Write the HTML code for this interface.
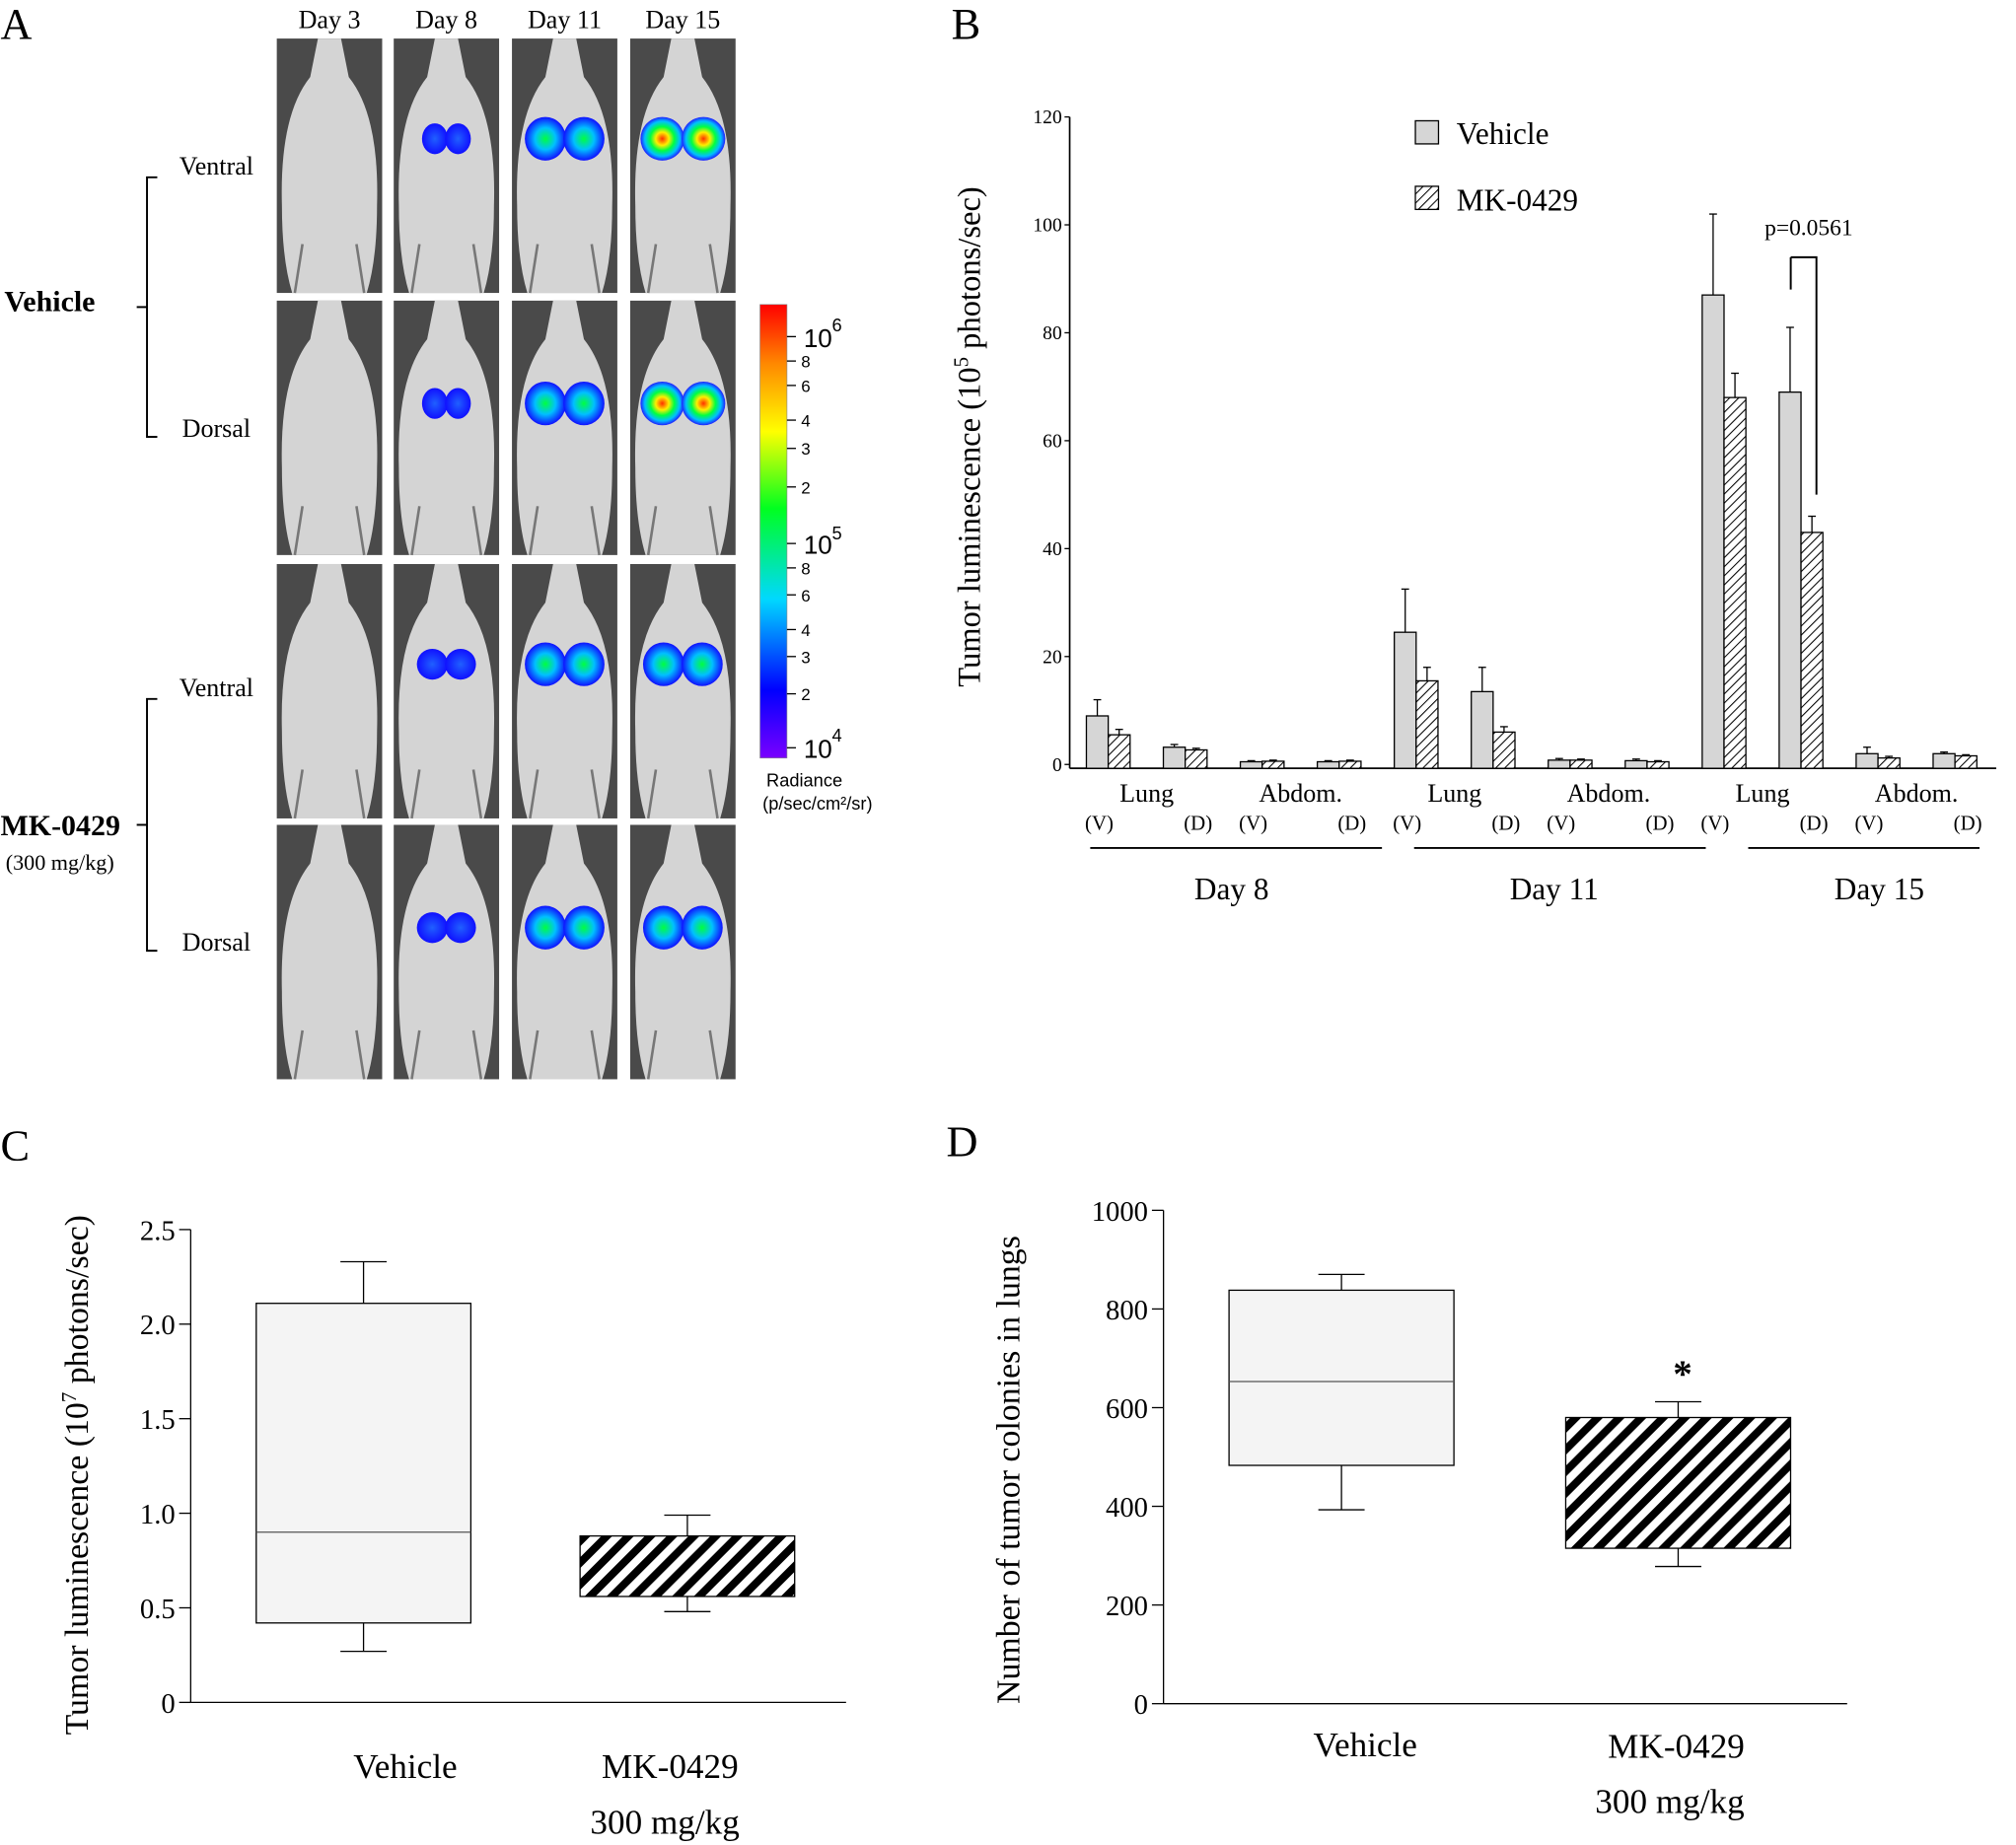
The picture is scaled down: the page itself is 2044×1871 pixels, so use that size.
<!DOCTYPE html>
<html><head><meta charset="utf-8"><style>
html,body{margin:0;padding:0;background:#fff;}
svg{display:block;font-family:"Liberation Serif",serif;}
svg text{font-family:"Liberation Serif",serif;}
</style></head><body>
<svg id="fig" width="2044" height="1871" viewBox="0 0 1568 1436" xmlns="http://www.w3.org/2000/svg">
<defs>
<pattern id="hB" patternUnits="userSpaceOnUse" width="5" height="5" patternTransform="rotate(45)"><rect width="5" height="5" fill="#fff"/><line x1="0" y1="0" x2="0" y2="5" stroke="#000" stroke-width="1.6"/></pattern>
<pattern id="hC" patternUnits="userSpaceOnUse" width="12" height="12" patternTransform="rotate(45)"><rect width="12" height="12" fill="#fff"/><line x1="3" y1="0" x2="3" y2="12" stroke="#000" stroke-width="6"/></pattern>
<linearGradient id="cbar" x1="0" y1="1" x2="0" y2="0">
<stop offset="0" stop-color="#7a00ff"/><stop offset="0.15" stop-color="#0000ff"/><stop offset="0.35" stop-color="#00d8ff"/><stop offset="0.55" stop-color="#00ff20"/><stop offset="0.72" stop-color="#ffff00"/><stop offset="0.87" stop-color="#ff8800"/><stop offset="1" stop-color="#ff0000"/></linearGradient>
<radialGradient id="blob"><stop offset="0" stop-color="#ff3000"/><stop offset="0.3" stop-color="#ffee00"/><stop offset="0.55" stop-color="#00ff40"/><stop offset="0.8" stop-color="#00c0ff"/><stop offset="1" stop-color="#2020ff"/></radialGradient>
<radialGradient id="blob2"><stop offset="0" stop-color="#00ff40"/><stop offset="0.5" stop-color="#00c0ff"/><stop offset="1" stop-color="#1010ff"/></radialGradient>
<radialGradient id="blob3"><stop offset="0" stop-color="#2060ff"/><stop offset="1" stop-color="#1010ff"/></radialGradient>
</defs>
<g id="panelA"></g>
<g id="panelB"></g>
<g id="panelC"></g>
<g id="panelD"></g>
</svg>
<script>
// Panel B data
const bCats = ["D8 Lung V","D8 Lung D","D8 Abdom V","D8 Abdom D","D11 Lung V","D11 Lung D","D11 Abdom V","D11 Abdom D","D15 Lung V","D15 Lung D","D15 Abdom V","D15 Abdom D"];
const bVehicle = [9,3.2,0.5,0.5,24.5,13.5,0.8,0.7,87,69,2,2];
const bVehicleErr = [3,0.5,0.2,0.2,8,4.5,0.3,0.3,15,12,1.2,0.3];
const bMK = [5.5,2.7,0.6,0.6,15.5,6,0.8,0.5,68,43,1.2,1.6];
const bMKErr = [1,0.3,0.2,0.2,2.5,1,0.2,0.2,4.5,3,0.3,0.2];
const bTicks = [0,20,40,60,80,100,120];
// Panel C data
const cGroups = ["Vehicle","MK-0429"];
const cMin = [0.27,0.48], cQ1 = [0.42,0.56], cMed = [0.9,0.72], cQ3 = [2.11,0.88], cMax = [2.33,0.99];
const cTicks = [0,0.5,1.0,1.5,2.0,2.5];
// Panel D data
const dGroups = ["Vehicle","MK-0429"];
const dMin = [393,278], dQ1 = [483,315], dMed = [653,450], dQ3 = [838,580], dMax = [870,612];
const dTicks = [0,200,400,600,800,1000];

const NS="http://www.w3.org/2000/svg";
function mk(parent,tag,attrs,text){const e=document.createElementNS(NS,tag);for(const k in attrs)e.setAttribute(k,attrs[k]);if(text!==undefined)e.textContent=text;parent.appendChild(e);return e;}

// ---------- Panel A ----------
const A=document.getElementById('panelA');
let t=mk(A,'text',{x:0,y:30,'font-size':34},'A');


const colX=[215,306,398,490], rowY=[30,234,439,642], days=["Day 3","Day 8","Day 11","Day 15"];
days.forEach((d,i)=>{const e=mk(A,'text',{x:colX[i]+41,y:22,'font-size':20,'text-anchor':'middle'},d);

});
const blobs=[[0,1,2,3],[0,1,2,3],[0,1,2,2],[0,1,1.5,2]];
rowY.forEach((y,r)=>{colX.forEach((x,c)=>{
  const g=mk(A,'g',{});
  
  
  mk(g,'rect',{x:x,y:y,width:82,height:198,fill:'#4a4a4a'});
  mk(g,'path',{d:`M${x+32},${y} L${x+50},${y} L${x+56},${y+30} Q${x+80},${y+60} ${x+78},${y+130} Q${x+78},${y+172} ${x+70},${y+198} L${x+12},${y+198} Q${x+4},${y+172} ${x+4},${y+130} Q${x+2},${y+60} ${x+26},${y+30} Z`,fill:'#d4d4d4'});
  mk(g,'path',{d:`M${x+14},${y+198} L${x+20},${y+160} M${x+68},${y+198} L${x+62},${y+160}`,stroke:'#777','stroke-width':2,fill:'none'});
  const b=blobs[r][c];
  if(b){const cy=y+(r%2==0?78:80);
    const fill=b==3?'url(#blob)':(b>=1.5?'url(#blob2)':'url(#blob3)');
    const w=b==1?(r<2?16:20):(b==3?30:28);
    mk(g,'ellipse',{cx:x+41-w/2-1,cy:cy,rx:w/2+2,ry:b==1?12:17,fill:fill});
    mk(g,'ellipse',{cx:x+41+w/2+1,cy:cy,rx:w/2+2,ry:b==1?12:17,fill:fill});}
});});
function bracket(y1,y2){
  mk(A,'path',{d:`M122,${y1} L114,${y1} L114,${y2} L122,${y2}`,fill:'none',stroke:'#000','stroke-width':1.5});
  mk(A,'line',{x1:106,y1:(y1+y2)/2,x2:114,y2:(y1+y2)/2,stroke:'#000','stroke-width':1.5});
  let e=mk(A,'text',{x:168,y:y1-2,'font-size':20,'text-anchor':'middle'},'Ventral');
  
  
  e=mk(A,'text',{x:168,y:y2,'font-size':20,'text-anchor':'middle'},'Dorsal');
  
  
}
bracket(138,340);bracket(544,740);
t=mk(A,'text',{x:3,y:242,'font-size':23,'font-weight':'bold'},'Vehicle');


t=mk(A,'text',{x:0,y:650,'font-size':23,'font-weight':'bold'},'MK-0429');


t=mk(A,'text',{x:4,y:677,'font-size':17},'(300 mg/kg)');


t=mk(A,'rect',{x:591,y:237,width:21,height:353,fill:'url(#cbar)',stroke:'#888','stroke-width':0.5});


const cbl=[[262,'10'],[281,'8'],[300,'6'],[327,'4'],[349,'3'],[379,'2'],[423,'10'],[442,'8'],[463,'6'],[490,'4'],[511,'3'],[540,'2'],[582,'10']];
cbl.forEach(([y,s])=>{mk(A,'line',{x1:612,y1:y,x2:619,y2:y,stroke:'#000'});
  const big=s=='10';const e=mk(A,'text',{x:big?625:623,y:y+(big?8:5),'font-size':big?20:13,'style':'font-family:Liberation Sans,sans-serif'},s);
  
  });
[[258,'6'],[420,'5'],[577,'4']].forEach(([y,s])=>mk(A,'text',{x:647,y:y,'font-size':14,'style':'font-family:Liberation Sans,sans-serif'},s));
t=mk(A,'text',{x:596,y:612,'font-size':14,'style':'font-family:Liberation Sans,sans-serif'},'Radiance');


mk(A,'text',{x:593,y:630,'font-size':14,'style':'font-family:Liberation Sans,sans-serif'},'(p/sec/cm²/sr)');

// ---------- Panel B ----------
const B=document.getElementById('panelB');
const bx0=832,by0=595,byTop=91,bMax=120;
const bY=v=>by0-(v/bMax)*(by0-byTop);
const bX=i=>845+i*59.9;
const bw=17;
t=mk(B,'text',{x:740,y:30,'font-size':34},'B');


mk(B,'line',{x1:bx0,y1:byTop,x2:bx0,y2:by0+3,stroke:'#000','stroke-width':1.3});
mk(B,'line',{x1:bx0,y1:by0+3,x2:1553,y2:by0+3,stroke:'#000','stroke-width':1.3});
bTicks.forEach(v=>{mk(B,'line',{x1:bx0-4,y1:bY(v),x2:bx0,y2:bY(v),stroke:'#000'});
  const e=mk(B,'text',{x:bx0-6,y:bY(v)+5,'font-size':15,'text-anchor':'end'},v);
  
  });
t=mk(B,'text',{x:0,y:0,'font-size':25,'text-anchor':'middle',transform:'translate(762,340) rotate(-90)'});
t.innerHTML='Tumor luminescence (10<tspan baseline-shift="super" font-size="16">5</tspan> photons/sec)';


bCats.forEach((c,i)=>{
  const x=bX(i);
  let r=mk(B,'rect',{x:x,y:bY(bVehicle[i]),width:bw,height:by0-bY(bVehicle[i])+3,fill:'#d6d6d6',stroke:'#000','stroke-width':1});
  
  
  mk(B,'line',{x1:x+bw/2,y1:bY(bVehicle[i]),x2:x+bw/2,y2:bY(bVehicle[i]+bVehicleErr[i]),stroke:'#000'});
  mk(B,'line',{x1:x+bw/2-3,y1:bY(bVehicle[i]+bVehicleErr[i]),x2:x+bw/2+3,y2:bY(bVehicle[i]+bVehicleErr[i]),stroke:'#000'});
  r=mk(B,'rect',{x:x+bw,y:bY(bMK[i]),width:bw,height:by0-bY(bMK[i])+3,fill:'url(#hB)',stroke:'#000','stroke-width':1});
  
  
  mk(B,'line',{x1:x+bw*1.5,y1:bY(bMK[i]),x2:x+bw*1.5,y2:bY(bMK[i]+bMKErr[i]),stroke:'#000'});
  mk(B,'line',{x1:x+bw*1.5-3,y1:bY(bMK[i]+bMKErr[i]),x2:x+bw*1.5+3,y2:bY(bMK[i]+bMKErr[i]),stroke:'#000'});
});
mk(B,'path',{d:`M${bX(9)+9},${bY(94)} L${bX(9)+9},${bY(88)} M${bX(9)+9},${bY(94)} L${bX(9)+29},${bY(94)} L${bX(9)+29},${bY(50)}`,fill:'none',stroke:'#000','stroke-width':1.5});
t=mk(B,'text',{x:bX(9)+23,y:183,'font-size':18,'text-anchor':'middle'},'p=0.0561');


t=mk(B,'rect',{x:1101,y:94,width:18,height:18,fill:'#d6d6d6',stroke:'#000'});


t=mk(B,'text',{x:1133,y:112,'font-size':24},'Vehicle');


t=mk(B,'rect',{x:1101,y:145,width:18,height:18,fill:'url(#hB)',stroke:'#000'});


t=mk(B,'text',{x:1133,y:164,'font-size':24},'MK-0429');


for(let g=0;g<3;g++){
  const base=g*4;
  [['Lung',0],['Abdom.',2]].forEach(([s,o])=>{const cx=(bX(base+o)+bX(base+o+1)+2*bw)/2;
    const e=mk(B,'text',{x:cx,y:624,'font-size':20,'text-anchor':'middle'},s);
    
    });
  for(let k=0;k<4;k++){const cx=k%2==0?bX(base+k)+10:bX(base+k)+bw+10;
    const e=mk(B,'text',{x:cx,y:646,'font-size':16,'text-anchor':'middle'},k%2==0?'(V)':'(D)');
    
    }
}
[[848,1075,958,'Day 8'],[1100,1327,1209,'Day 11'],[1360,1540,1462,'Day 15']].forEach(([a,b,c,s])=>{
  mk(B,'line',{x1:a,y1:660,x2:b,y2:660,stroke:'#000','stroke-width':1.5});
  const e=mk(B,'text',{x:c,y:700,'font-size':24,'text-anchor':'middle'},s);
  
  });

function boxPlot(P,opt,groups,mn,q1,md,q3,mx,ticks){
  const Y=v=>opt.y0-(v/opt.max)*(opt.y0-opt.yTop);
  mk(P,'line',{x1:opt.x0,y1:opt.yTop,x2:opt.x0,y2:opt.y0,stroke:'#000','stroke-width':1});
  mk(P,'line',{x1:opt.x0,y1:opt.y0,x2:opt.xEnd,y2:opt.y0,stroke:'#000','stroke-width':1});
  ticks.forEach(v=>{mk(P,'line',{x1:opt.x0-9,y1:Y(v),x2:opt.x0,y2:Y(v),stroke:'#000'});
    const e=mk(P,'text',{x:opt.x0-12,y:Y(v)+8,'font-size':22,'text-anchor':'end'},opt.fmt(v));
    
    });
  groups.forEach((g,i)=>{
    const x=opt.bx[i],w=opt.bw,cx=x+w/2;
    mk(P,'line',{x1:cx,y1:Y(mn[i]),x2:cx,y2:Y(q1[i]),stroke:'#000'});
    mk(P,'line',{x1:cx,y1:Y(q3[i]),x2:cx,y2:Y(mx[i]),stroke:'#000'});
    mk(P,'line',{x1:cx-18,y1:Y(mn[i]),x2:cx+18,y2:Y(mn[i]),stroke:'#000'});
    mk(P,'line',{x1:cx-18,y1:Y(mx[i]),x2:cx+18,y2:Y(mx[i]),stroke:'#000'});
    const r=mk(P,'rect',{x:x,y:Y(q3[i]),width:w,height:Y(q1[i])-Y(q3[i]),fill:i==0?'#f4f4f4':'url(#hC)',stroke:'#000','stroke-width':1});
    
    
    if(i==0)mk(P,'line',{x1:x,y1:Y(md[i]),x2:x+w,y2:Y(md[i]),stroke:'#555'});
  });
  return Y;
}
const C=document.getElementById('panelC');
t=mk(C,'text',{x:0,y:903,'font-size':34},'C');


boxPlot(C,{x0:148,xEnd:658,y0:1325,yTop:957,max:2.5,bx:[199,451],bw:167,fmt:v=>v==0?'0':v.toFixed(1)},cGroups,cMin,cQ1,cMed,cQ3,cMax,cTicks);
t=mk(C,'text',{x:0,y:0,'font-size':26,'text-anchor':'middle',transform:'translate(68,1148) rotate(-90)'});
t.innerHTML='Tumor luminescence  (10<tspan baseline-shift="super" font-size="16">7</tspan> photons/sec)';


t=mk(C,'text',{x:315,y:1384,'font-size':27,'text-anchor':'middle'},'Vehicle');


t=mk(C,'text',{x:521,y:1384,'font-size':27,'text-anchor':'middle'},'MK-0429');


mk(C,'text',{x:517,y:1427,'font-size':27,'text-anchor':'middle'},'300 mg/kg');
const D=document.getElementById('panelD');
t=mk(D,'text',{x:736,y:900,'font-size':34},'D');


const dY=boxPlot(D,{x0:905,xEnd:1437,y0:1326,yTop:942,max:1000,bx:[956,1218],bw:175,fmt:v=>String(v)},dGroups,dMin,dQ1,dMed,dQ3,dMax,dTicks);
t=mk(D,'text',{x:1309,y:dY(dMax[1])-12,'font-size':30,'text-anchor':'middle','font-weight':'bold'},'*');


t=mk(D,'text',{x:0,y:0,'font-size':26,'text-anchor':'middle',transform:'translate(793,1144) rotate(-90)'},'Number of tumor colonies in lungs');


t=mk(D,'text',{x:1062,y:1367,'font-size':27,'text-anchor':'middle'},'Vehicle');


t=mk(D,'text',{x:1304,y:1368,'font-size':27,'text-anchor':'middle'},'MK-0429');


mk(D,'text',{x:1299,y:1411,'font-size':27,'text-anchor':'middle'},'300 mg/kg');
</script>
</body></html>
